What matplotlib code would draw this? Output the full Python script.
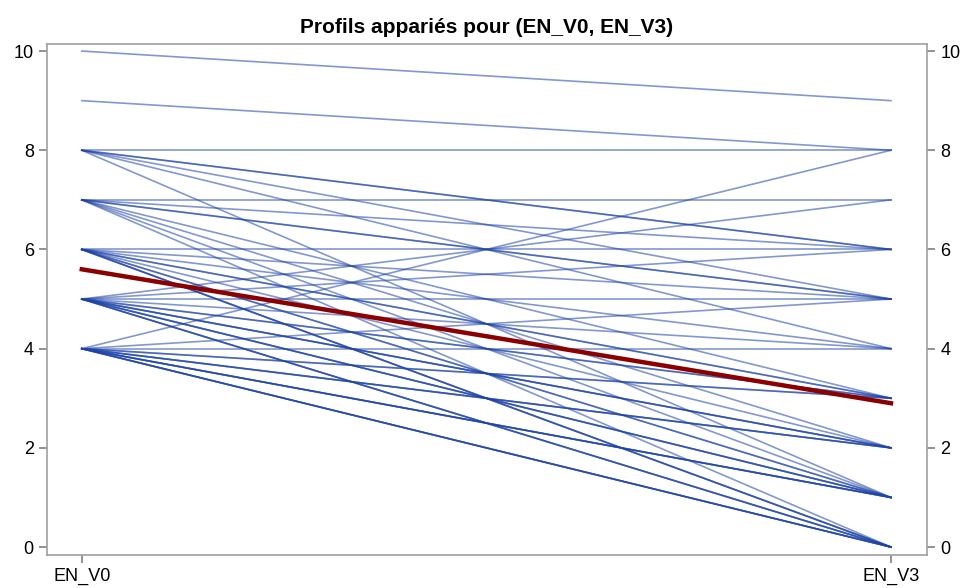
import matplotlib.pyplot as plt
import numpy as np

plt.rcParams['font.family'] = ['Liberation Sans', 'DejaVu Sans']

# paired scores (EN_V0 -> EN_V3)
en_v0 = [10, 9, 8, 4, 7, 5,
         8, 8, 7, 6, 5,
         8, 7, 7, 6, 5, 4,
         8, 6, 5, 4,
         7, 6, 6, 5, 4,
         7, 6, 5, 5, 4,
         8, 7, 6, 6, 5, 4, 4,
         7, 6, 6, 5, 4, 4,
         4, 4, 4, 4, 5, 5, 5, 5,
         4, 4, 5, 4, 6, 5]
en_v3 = [9, 8, 8, 8, 7, 7,
         6, 6, 6, 6, 6,
         5, 5, 5, 5, 5, 5,
         4, 4, 4, 4,
         3, 3, 3, 3, 3,
         2, 2, 2, 2, 2,
         1, 1, 1, 1, 1, 1, 1,
         0, 0, 0, 0, 0, 0,
         0, 1, 2, 3, 0, 1, 2, 3,
         0, 1, 0, 2, 0, 1]
mean_v0 = 5.6
mean_v3 = 2.9
time_labels = ['EN_V0', 'EN_V3']

fig = plt.figure(figsize=(9.63, 5.88), dpi=100)
ax = fig.add_axes([0.0488, 0.0561, 0.9138, 0.8689])

for a, b in zip(en_v0, en_v3):
    ax.plot([0, 1], [a, b], color='#1f44a8', alpha=0.55, linewidth=1.2)
ax.plot([0, 1], [mean_v0, mean_v3], color='#8b0000', linewidth=3.2)

ax.set_xlim(-0.043, 1.0445)
ax.set_ylim(-0.16, 10.14)
ax.set_xticks([0, 1])
ax.set_xticklabels(time_labels)
ax.set_yticks(range(0, 11, 2))
ax.tick_params(axis='y', right=True, labelright=True)
ax.tick_params(colors='#808080', labelcolor='black', labelsize=13, length=6, width=1.2)
for s in ax.spines.values():
    s.set_color('#a0a0a0')
    s.set_linewidth(1.2)

ax.set_title('Profils appariés pour (EN_V0, EN_V3)', fontsize=15, fontweight='bold', pad=8)

plt.savefig('out.png', dpi=100)
